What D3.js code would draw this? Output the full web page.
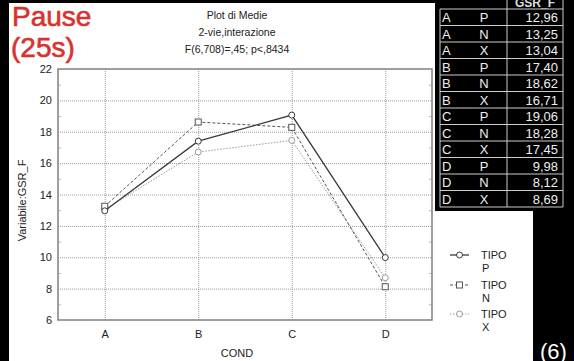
<!DOCTYPE html>
<html>
<head>
<meta charset="utf-8">
<script src="https://cdn.jsdelivr.net/npm/d3@7"></script>
<style>
  body { margin: 0; background: #000; }
  svg { display: block; font-family: Arial, "Liberation Sans", sans-serif; }
</style>
</head>
<body>
<div id="chart"></div>
<script>
const conds = ["A", "B", "C", "D"];
const tipi = ["P", "N", "X"];
const gsrP = [12.96, 17.40, 19.06, 9.98];
const gsrN = [13.25, 18.62, 18.28, 8.12];
const gsrX = [13.04, 16.71, 17.45, 8.69];
const yTicks = [6, 8, 10, 12, 14, 16, 18, 20, 22];
const titleLines = ["Plot di Medie", "2-vie,interazione", "F(6,708)=,45; p<,8434"];

const W = 574, H = 361;
const plot = { left: 58, right: 432, top: 69, bottom: 320 };

const svg = d3.select("#chart").append("svg")
    .attr("width", W)
    .attr("height", H);

// black frame + white page
svg.append("rect").attr("width", W).attr("height", H).attr("fill", "#000");
svg.append("rect")
    .attr("x", 9).attr("y", 3)
    .attr("width", 524).attr("height", H - 3)
    .attr("fill", "#fff");

const x = d3.scalePoint().domain(conds).range([plot.left, plot.right]).padding(0.5);
const y = d3.scaleLinear().domain([6, 22]).range([plot.bottom, plot.top]);

// grid
const grid = svg.append("g").attr("stroke", "#999").attr("stroke-dasharray", "1,1").attr("stroke-width", 1);
grid.selectAll("line.h")
    .data(yTicks.filter(d => d > 6 && d < 22))
    .join("line")
      .attr("x1", plot.left).attr("x2", plot.right)
      .attr("y1", d => y(d) + 0.5).attr("y2", d => y(d) + 0.5);
grid.selectAll("line.v")
    .data(conds)
    .join("line")
      .attr("x1", d => x(d) + 0.5).attr("x2", d => x(d) + 0.5)
      .attr("y1", plot.top).attr("y2", plot.bottom);

// minor ticks inside the frame
const minor = d3.range(7, 22, 2);
const mt = svg.append("g").attr("stroke", "#bbb").attr("stroke-width", 1);
mt.selectAll("line.l").data(minor).join("line")
    .attr("x1", plot.left).attr("x2", plot.left + 3)
    .attr("y1", d => y(d) + 0.5).attr("y2", d => y(d) + 0.5);
mt.selectAll("line.r").data(minor).join("line")
    .attr("x1", plot.right - 3).attr("x2", plot.right)
    .attr("y1", d => y(d) + 0.5).attr("y2", d => y(d) + 0.5);

// frame
svg.append("rect")
    .attr("x", plot.left).attr("y", plot.top)
    .attr("width", plot.right - plot.left).attr("height", plot.bottom - plot.top)
    .attr("fill", "none").attr("stroke", "#808080").attr("stroke-width", 1.5);

// axes labels
const yAxis = d3.axisLeft(y).tickValues(yTicks).tickSize(0).tickPadding(6);
svg.append("g")
    .attr("transform", `translate(${plot.left},0)`)
    .call(yAxis)
    .call(g => g.select(".domain").remove())
    .selectAll("text")
      .attr("font-size", 11).attr("fill", "#222");

const xAxis = d3.axisBottom(x).tickSize(0).tickPadding(10);
svg.append("g")
    .attr("transform", `translate(0,${plot.bottom})`)
    .call(xAxis)
    .call(g => g.select(".domain").remove())
    .selectAll("text")
      .attr("font-size", 11).attr("fill", "#222");

svg.append("text")
    .attr("x", 237).attr("y", 357)
    .attr("text-anchor", "middle")
    .attr("font-size", 11).attr("fill", "#222")
    .text("COND");

svg.append("text")
    .attr("transform", `translate(26,${(plot.top + plot.bottom) / 2 + 6}) rotate(-90)`)
    .attr("text-anchor", "middle")
    .attr("font-size", 11).attr("fill", "#222")
    .text("Variabile:GSR_F");

// title
svg.append("g").selectAll("text")
    .data(titleLines)
    .join("text")
      .attr("x", 237)
      .attr("y", (d, i) => 19 + i * 17)
      .attr("text-anchor", "middle")
      .attr("font-size", 10.5).attr("fill", "#222")
      .text(d => d);

// Pause (25s)
svg.append("text").attr("x", 12).attr("y", 26)
    .attr("font-size", 28).attr("fill", "#d8322e")
    .attr("stroke", "#d8322e").attr("stroke-width", 0.6).text("Pause");
svg.append("text").attr("x", 11).attr("y", 57)
    .attr("font-size", 28).attr("fill", "#d8322e")
    .attr("stroke", "#d8322e").attr("stroke-width", 0.6).text("(25s)");

// series
const series = [
  { name: "P", values: gsrP, color: "#3a3a3a", dash: null, width: 1.3, marker: "circle" },
  { name: "N", values: gsrN, color: "#555", dash: "3,2", width: 1, marker: "square" },
  { name: "X", values: gsrX, color: "#999", dash: "1.5,1.5", width: 1, marker: "circle" }
];

const line = d3.line().x((d, i) => x(conds[i])).y(d => y(d));

function drawMarker(g, s, cx, cy) {
  if (s.marker === "square") {
    g.append("rect")
        .attr("x", cx - 3).attr("y", cy - 3)
        .attr("width", 6).attr("height", 6)
        .attr("fill", "#fff").attr("stroke", s.color).attr("stroke-width", 1);
  } else {
    g.append("circle")
        .attr("cx", cx).attr("cy", cy).attr("r", 3)
        .attr("fill", "#fff").attr("stroke", s.color).attr("stroke-width", 1);
  }
}

[series[2], series[1], series[0]].forEach(s => {
  const g = svg.append("g");
  g.append("path")
      .datum(s.values)
      .attr("d", line)
      .attr("fill", "none")
      .attr("stroke", s.color)
      .attr("stroke-width", s.width)
      .attr("stroke-dasharray", s.dash);
  s.values.forEach((v, i) => drawMarker(g, s, x(conds[i]), y(v)));
});

// legend
const legendY = [255, 285, 314];
series.forEach((s, i) => {
  const g = svg.append("g");
  const ly = legendY[i];
  g.append("line")
      .attr("x1", 450).attr("x2", 469).attr("y1", ly).attr("y2", ly)
      .attr("stroke", s.color).attr("stroke-width", s.width)
      .attr("stroke-dasharray", s.dash);
  drawMarker(g, s, 459.5, ly);
  g.append("text").attr("x", 481).attr("y", ly + 4)
      .attr("font-size", 11).attr("fill", "#222").text("TIPO");
  g.append("text").attr("x", 482).attr("y", ly + 17)
      .attr("font-size", 11).attr("fill", "#222").text(s.name);
});

// table
const rows = [];
conds.forEach((c, ci) => {
  tipi.forEach((t, ti) => {
    rows.push({ cond: c, tipo: t, value: series[ti].values[ci] });
  });
});
const fmt = v => d3.format(".2f")(v).replace(".", ",");

const tbl = svg.append("g");
tbl.append("rect").attr("x", 435).attr("y", 0).attr("width", W - 435).attr("height", 211).attr("fill", "#000");
const rowH = 16.5, rowTop = 9, tL = 440, tM = 507, tR = 563;
tbl.append("text").attr("x", (tM + tR) / 2).attr("y", 7)
    .attr("text-anchor", "middle").attr("font-size", 12).attr("font-weight", "bold")
    .attr("fill", "#ddd").text("GSR_F");
tbl.append("line").attr("x1", tM).attr("x2", tM).attr("y1", 0).attr("y2", rowTop + rows.length * rowH)
    .attr("stroke", "#ccc");
tbl.selectAll("line.row")
    .data(d3.range(rows.length + 1))
    .join("line")
      .attr("x1", tL).attr("x2", tR)
      .attr("y1", d => rowTop + d * rowH).attr("y2", d => rowTop + d * rowH)
      .attr("stroke", "#ccc");
tbl.append("line").attr("x1", tL).attr("x2", tL).attr("y1", rowTop).attr("y2", rowTop + rows.length * rowH).attr("stroke", "#ccc");
tbl.append("line").attr("x1", tR).attr("x2", tR).attr("y1", 0).attr("y2", rowTop + rows.length * rowH).attr("stroke", "#ccc");
const rg = tbl.selectAll("g.r").data(rows).join("g")
    .attr("transform", (d, i) => `translate(0,${rowTop + i * rowH + 13})`)
    .attr("font-size", 13).attr("fill", "#eee");
rg.append("text").attr("x", 442).text(d => d.cond);
rg.append("text").attr("x", 484).attr("text-anchor", "middle").text(d => d.tipo);
rg.append("text").attr("x", 558).attr("text-anchor", "end").text(d => fmt(d.value));

// slide number
svg.append("text").attr("x", 540).attr("y", 359)
    .attr("font-size", 22).attr("fill", "#fff").text("(6)");
</script>
</body>
</html>
